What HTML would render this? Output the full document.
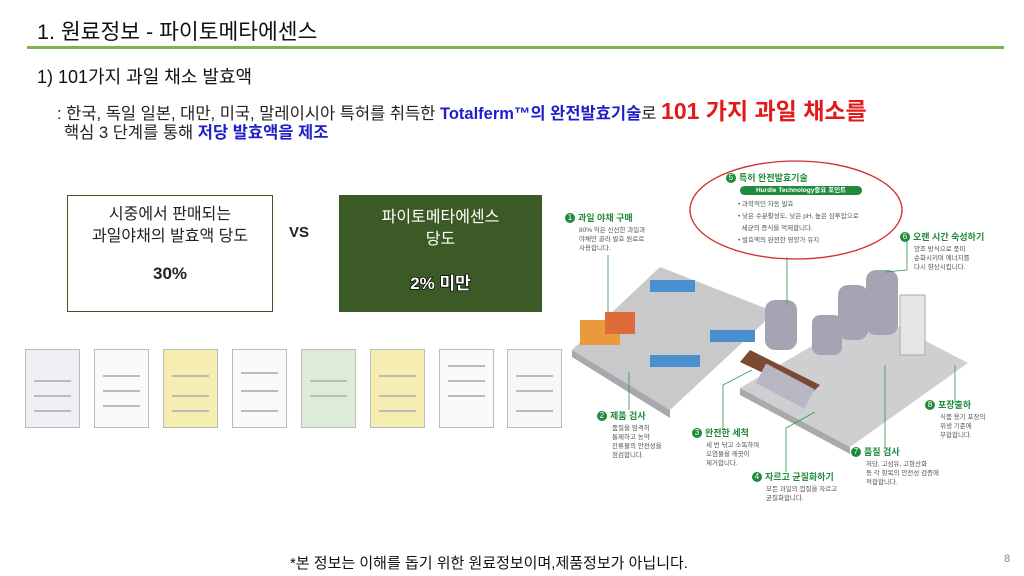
<!DOCTYPE html>
<html><head><meta charset="utf-8"><style>
body{margin:0;width:1024px;height:576px;background:#fff;position:relative;overflow:hidden;font-family:"Liberation Sans","Noto Sans CJK KR",sans-serif;color:#222}
.a{position:absolute;white-space:nowrap}
.h{font-size:9px;line-height:11px}
.cert{position:absolute;top:349px;width:55px;height:79px;border:1px solid #bbb;box-sizing:border-box;background:#fafafa}
.cert i{position:absolute;left:8px;right:8px;height:2px;background:#bbb}
.g{color:#1e8a3a;font-weight:bold;font-size:9px}
.t{font-size:6.5px;color:#555;line-height:9px}
.n{display:inline-block;width:10px;height:10px;border-radius:5px;background:#1e8a3a;color:#fff;font-size:8px;text-align:center;line-height:10px;margin-right:3px;vertical-align:top}
</style></head><body>
<div class="a" style="left:37px;top:15px;font-size:21.5px;color:#111">1. 원료정보 - 파이토메타에센스</div>
<div style="position:absolute;left:27px;top:46px;width:977px;height:3px;background:#78b54a"></div>
<div class="a" style="left:37px;top:63px;font-size:18px;color:#111">1) 101가지 과일 채소 발효액</div>
<div class="a" style="left:57px;top:92px;font-size:16.5px;color:#222">: 한국, 독일 일본, 대만, 미국, 말레이시아 특허를 취득한 <b style="color:#1f1fc8">Totalferm™의 완전발효기술</b>로 <b style="color:#e21a1a;font-size:23px">101 가지 과일 채소를</b></div>
<div class="a" style="left:64px;top:119px;font-size:16.5px;color:#222">핵심 3 단계를 통해 <b style="color:#1f1fc8">저당 발효액을 제조</b></div>

<div style="position:absolute;left:67px;top:195px;width:206px;height:117px;border:1.5px solid #3a5a24;box-sizing:border-box;text-align:center">
<div style="font-size:16px;line-height:22px;margin-top:8px">시중에서 판매되는<br>과일야채의 발효액 당도</div>
<div style="font-size:17px;font-weight:bold;margin-top:16px;margin-left:0px">30%</div></div>
<div class="a" style="left:289px;top:224px;font-size:15px;font-weight:bold">VS</div>
<div style="position:absolute;left:339px;top:195px;width:203px;height:117px;background:#3c5a26;text-align:center;color:#fff">
<div style="font-size:16px;line-height:22px;margin-top:12px">파이토메타에센스<br>당도</div>
<div style="font-size:17px;font-weight:bold;margin-top:18px;margin-right:0px;-webkit-text-stroke:1.5px #000;paint-order:stroke fill">2% 미만</div></div>

<div class="cert" style="left:25px;background:#eef0f4"><i style="top:30px"></i><i style="top:45px"></i><i style="top:60px"></i></div>
<div class="cert" style="left:94px"><i style="top:25px"></i><i style="top:40px"></i><i style="top:55px"></i></div>
<div class="cert" style="left:163px;background:#f6eeb0"><i style="top:25px"></i><i style="top:45px"></i><i style="top:60px"></i></div>
<div class="cert" style="left:232px"><i style="top:22px"></i><i style="top:40px"></i><i style="top:60px"></i></div>
<div class="cert" style="left:301px;background:#dcecd6"><i style="top:30px"></i><i style="top:45px"></i></div>
<div class="cert" style="left:370px;background:#f6eeb0"><i style="top:25px"></i><i style="top:45px"></i><i style="top:60px"></i></div>
<div class="cert" style="left:439px"><i style="top:15px"></i><i style="top:30px"></i><i style="top:45px"></i></div>
<div class="cert" style="left:507px;background:#f7f7f7"><i style="top:25px"></i><i style="top:40px"></i><i style="top:60px"></i></div>

<svg style="position:absolute;left:0;top:0" width="1024" height="576">
<polygon points="572,350 660,267 775,312 670,410" fill="#c9c9cc"/>
<polygon points="572,350 670,410 670,418 572,357" fill="#a9a9ad"/>
<polygon points="740,388 870,312 968,363 850,447" fill="#cfcfd2"/>
<polygon points="740,388 850,447 850,454 740,395" fill="#aaa"/>
<rect x="580" y="320" width="40" height="25" fill="#e89a3c"/><rect x="605" y="312" width="30" height="22" fill="#e06b3a"/>
<rect x="650" y="280" width="45" height="12" fill="#4a8fd0"/><rect x="650" y="355" width="50" height="12" fill="#4a8fd0"/><rect x="710" y="330" width="45" height="12" fill="#4a8fd0"/>
<rect x="765" y="300" width="32" height="50" rx="10" fill="#a8a3b3"/><rect x="812" y="315" width="30" height="40" rx="8" fill="#a8a3b3"/>
<rect x="838" y="285" width="30" height="55" rx="10" fill="#a8a3b3"/><rect x="866" y="270" width="32" height="65" rx="10" fill="#a8a3b3"/>
<rect x="900" y="295" width="25" height="60" fill="#e5e5e5" stroke="#aaa"/>
<polygon points="750,350 820,385 810,395 740,362" fill="#7a4a32"/>
<rect x="760" y="372" width="55" height="22" fill="#b9b6c4" transform="rotate(28 780 380)"/>
<g fill="none" stroke="#2a9a4a" stroke-width="0.8">
<line x1="608" y1="255" x2="608" y2="312"/><line x1="629" y1="410" x2="629" y2="372"/><polyline points="723,430 723,385 752,370"/>
<polyline points="786,472 786,428 815,412"/><line x1="787" y1="257" x2="787" y2="305"/><polyline points="907,240 907,270 885,272"/>
<line x1="885" y1="448" x2="885" y2="365"/><line x1="955" y1="402" x2="955" y2="365"/></g>
<ellipse cx="796" cy="210" rx="106" ry="49" fill="none" stroke="#d3302f" stroke-width="1.3"/>
</svg>
<div class="a h" style="left:565px;top:213px"><span class="n">1</span><span class="g">과일 야채 구매</span></div>
<div class="a t" style="left:579px;top:226px">80% 익은 신선한 과일과<br>야채만 골라 발효 원료로<br>사용합니다.</div>
<div class="a h" style="left:726px;top:173px"><span class="n">5</span><span class="g">특허 완전발효기술</span></div>
<div class="a" style="left:740px;top:186px;width:122px;height:9px;border-radius:5px;background:#1e8a3a;color:#fff;font-size:6.5px;font-weight:bold;text-align:center;line-height:9px">Hurdle Technology중요 포인트</div>
<div class="a t" style="left:738px;top:199px;line-height:12px">• 과학적인 자동 발효<br>• 낮은 수분활성도, 낮은 pH, 높은 삼투압으로<br>&nbsp;&nbsp;세균의 증식을 억제합니다.<br>• 발효액의 완전한 영양가 유지</div>
<div class="a h" style="left:900px;top:232px"><span class="n">6</span><span class="g">오랜 시간 숙성하기</span></div>
<div class="a t" style="left:914px;top:245px">양조 방식으로 풍미<br>순화시키며 에너지를<br>다시 향상시킵니다.</div>
<div class="a h" style="left:597px;top:411px"><span class="n">2</span><span class="g">제품 검사</span></div>
<div class="a t" style="left:612px;top:424px">품질을 엄격히<br>통제하고 농약<br>잔류물의 안전성을<br>점검합니다.</div>
<div class="a h" style="left:692px;top:428px"><span class="n">3</span><span class="g">완전한 세척</span></div>
<div class="a t" style="left:706px;top:441px">세 번 닦고 소독하며<br>오염물을 깨끗이<br>제거합니다.</div>
<div class="a h" style="left:752px;top:472px"><span class="n">4</span><span class="g">자르고 균질화하기</span></div>
<div class="a t" style="left:766px;top:485px">모든 과일의 껍질을 자르고<br>균질화합니다.</div>
<div class="a h" style="left:851px;top:447px"><span class="n">7</span><span class="g">품질 검사</span></div>
<div class="a t" style="left:866px;top:460px">저당, 고섬유, 고항산화<br>등 각 항목의 안전성 검증에<br>적합합니다.</div>
<div class="a h" style="left:925px;top:400px"><span class="n">8</span><span class="g">포장출하</span></div>
<div class="a t" style="left:940px;top:413px">식품 용기 포장의<br>위생 기준에<br>부합합니다.</div>

<div class="a" style="left:290px;top:552px;font-size:15px;color:#111">*본 정보는 이해를 돕기 위한 원료정보이며,제품정보가 아닙니다.</div>
<div class="a" style="left:1004px;top:553px;font-size:11px;color:#888">8</div>
</body></html>
